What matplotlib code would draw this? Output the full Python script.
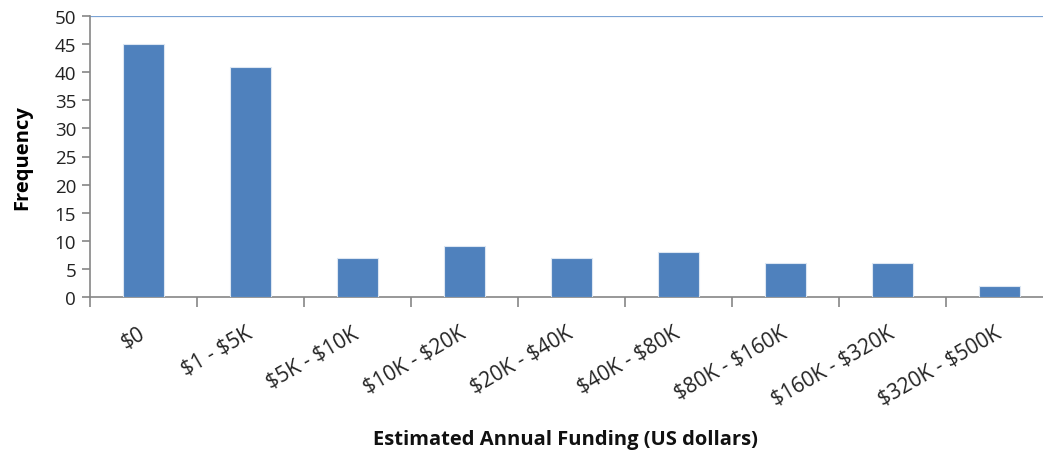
import matplotlib
matplotlib.use("Agg")
import matplotlib.pyplot as plt
import numpy as np

plt.rcParams['font.family'] = ['Open Sans', 'DejaVu Sans']
plt.rcParams['text.parse_math'] = False

categories = ['$0', '$1 - $5K', '$5K - $10K', '$10K - $20K', '$20K - $40K',
              '$40K - $80K', '$80K - $160K', '$160K - $320K', '$320K - $500K']
frequency = [45, 41, 7, 9, 7, 8, 6, 6, 2]
y_ticks = list(range(0, 51, 5))

BAR = '#4F81BD'
AXIS = '#868686'

fig = plt.figure(figsize=(10.43, 4.60), dpi=100)
fig.patch.set_facecolor('white')
ax = fig.add_axes([90 / 1043, 1 - 298 / 460, 963 / 1043, (298 - 17) / 460])

x = np.arange(len(categories))
ax.bar(x, frequency, width=0.39, color=BAR, edgecolor='#DCE6F2', linewidth=0.8, zorder=3)

ax.set_xlim(-0.5, len(categories) - 0.5)
ax.set_ylim(0, 50)
ax.axhline(50, color='#7BA3D4', linewidth=1.6, zorder=2)

for side in ['top', 'right']:
    ax.spines[side].set_visible(False)
for side in ['left', 'bottom']:
    ax.spines[side].set_color(AXIS)
    ax.spines[side].set_linewidth(1.2)

ax.set_yticks(y_ticks)
ax.set_yticklabels([str(v) for v in y_ticks], fontsize=13.5, color='#222222')
ax.tick_params(axis='y', direction='out', length=6, color=AXIS, width=1.2, pad=4)

ax.set_xticks(x)
ax.set_xticklabels(categories, fontsize=15, color='#222222', rotation=30,
                   ha='right', va='center', rotation_mode='anchor')
ax.tick_params(axis='x', which='major', length=0, pad=25)
ax.set_xticks(np.arange(-0.5, len(categories), 1.0), minor=True)
ax.tick_params(axis='x', which='minor', direction='out', length=7, color=AXIS, width=1.2)

ax.set_ylabel('Frequency', fontsize=14.5, fontweight='bold', labelpad=16)
fig.text(565 / 1043, 1 - 440 / 460, 'Estimated Annual Funding (US dollars)',
         fontsize=14.5, fontweight='bold', ha='center', va='center', color='#111111')

plt.savefig('out.png', dpi=100, facecolor='white')
